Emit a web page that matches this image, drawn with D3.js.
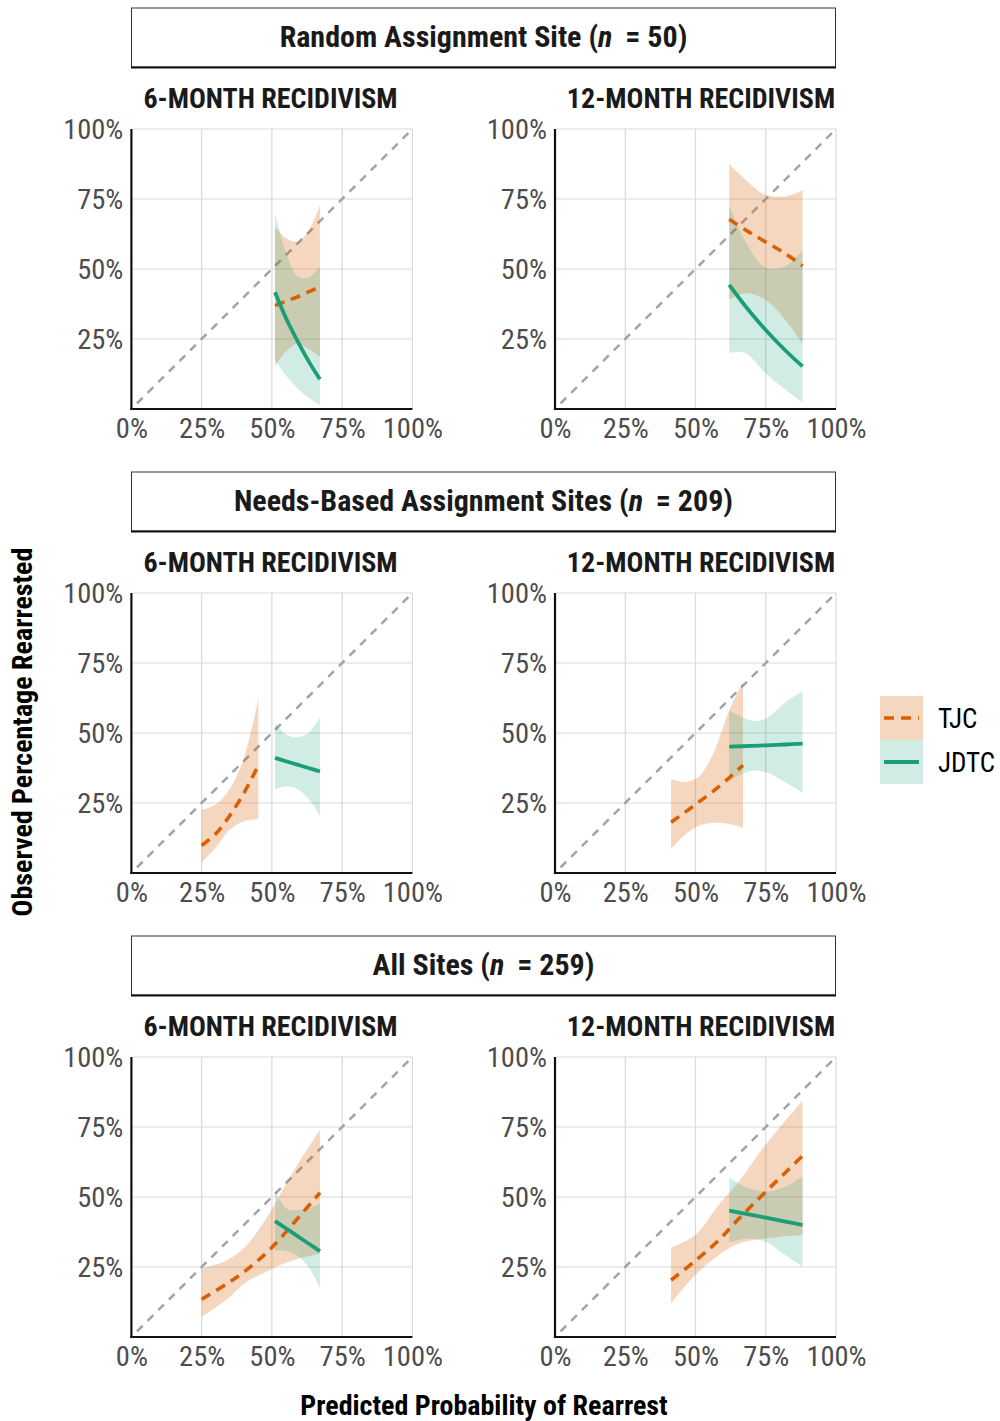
<!DOCTYPE html>
<html><head><meta charset="utf-8">
<script src="https://cdn.jsdelivr.net/npm/d3@7"></script>
<style>
body{margin:0;background:#fff;}
text{font-family:"Roboto Condensed","Liberation Sans Narrow","Roboto",sans-serif;}
</style></head>
<body><svg id="chart" width="1000" height="1421"></svg>
<script>
// ---- data ----
const groupTitles = ["Random Assignment Site", "Needs-Based Assignment Sites", "All Sites"];
const groupN = [50, 209, 259];
const outcomes = ["6-MONTH RECIDIVISM", "12-MONTH RECIDIVISM"];
const tickValues = [0, 0.25, 0.5, 0.75, 1];
const seriesNames = ["TJC", "JDTC"];
const xTitle = "Predicted Probability of Rearrest";
const yTitle = "Observed Percentage Rearrested";

// rows: [predicted, fit, lower, upper]
const tjcRandom6 = [[0.511,0.369,0.151,0.651],[0.55,0.385,0.205,0.61],[0.59,0.40,0.232,0.598],[0.63,0.418,0.215,0.635],[0.671,0.437,0.187,0.729]];
const jdtcRandom6 = [[0.511,0.417,0.175,0.699],[0.55,0.325,0.12,0.56],[0.59,0.245,0.075,0.475],[0.63,0.172,0.04,0.47],[0.671,0.106,0.014,0.508]];
const tjcRandom12 = [[0.62,0.678,0.39,0.876],[0.677,0.64,0.413,0.82],[0.749,0.597,0.39,0.765],[0.82,0.555,0.318,0.76],[0.881,0.511,0.233,0.781]];
const jdtcRandom12 = [[0.62,0.443,0.2,0.728],[0.677,0.368,0.2,0.6],[0.749,0.283,0.128,0.505],[0.82,0.209,0.07,0.51],[0.881,0.152,0.024,0.568]];
const tjcNeeds6 = [[0.25,0.098,0.038,0.226],[0.30,0.14,0.09,0.245],[0.35,0.205,0.155,0.30],[0.40,0.285,0.185,0.41],[0.452,0.385,0.193,0.624]];
const jdtcNeeds6 = [[0.511,0.411,0.298,0.536],[0.55,0.399,0.31,0.495],[0.59,0.387,0.30,0.485],[0.63,0.375,0.265,0.50],[0.671,0.363,0.205,0.556]];
const tjcNeeds12 = [[0.413,0.181,0.086,0.336],[0.46,0.215,0.135,0.325],[0.51,0.252,0.168,0.342],[0.56,0.29,0.179,0.42],[0.62,0.34,0.175,0.58],[0.669,0.385,0.161,0.683]];
const jdtcNeeds12 = [[0.62,0.451,0.33,0.58],[0.70,0.454,0.365,0.544],[0.75,0.456,0.36,0.552],[0.82,0.459,0.324,0.61],[0.881,0.462,0.288,0.648]];
const tjcAll6 = [[0.25,0.135,0.072,0.245],[0.34,0.19,0.135,0.274],[0.41,0.24,0.197,0.328],[0.48,0.30,0.233,0.424],[0.53,0.352,0.257,0.51],[0.58,0.41,0.275,0.597],[0.671,0.515,0.298,0.74]];
const jdtcAll6 = [[0.511,0.414,0.31,0.525],[0.55,0.388,0.307,0.46],[0.59,0.361,0.29,0.453],[0.63,0.334,0.25,0.46],[0.671,0.307,0.175,0.477]];
const tjcAll12 = [[0.413,0.203,0.119,0.319],[0.499,0.272,0.221,0.364],[0.582,0.345,0.292,0.471],[0.654,0.422,0.334,0.555],[0.749,0.518,0.352,0.686],[0.881,0.647,0.364,0.844]];
const jdtcAll12 = [[0.62,0.451,0.338,0.57],[0.689,0.438,0.352,0.531],[0.749,0.426,0.34,0.519],[0.82,0.412,0.292,0.537],[0.881,0.40,0.251,0.573]];

const panelData = [
  [[tjcRandom6, jdtcRandom6], [tjcRandom12, jdtcRandom12]],
  [[tjcNeeds6, jdtcNeeds6], [tjcNeeds12, jdtcNeeds12]],
  [[tjcAll6, jdtcAll6], [tjcAll12, jdtcAll12]]
];

// ---- layout ----
const lineColors = ["#D95F02", "#1B9E77"];
const fillOpacity = [0.25, 0.2];
const colLeft = [131.4, 555];
const panelW = 281, panelH = 280;
const rowBottom = [409, 873, 1337];
const FONT = '"Roboto Condensed","Liberation Sans Narrow","Roboto",sans-serif';
const svg = d3.select("#chart");

const fmt = d => Math.round(d * 100) + "%";
const curve = d3.curveCatmullRom.alpha(0.5);

rowBottom.forEach((bottom, r) => {
  const top = bottom - panelH;
  // header strip
  const hy = bottom - 401;
  svg.append("rect").attr("x", 131.5).attr("y", hy).attr("width", 704).attr("height", 59)
    .attr("fill", "#fff").attr("stroke", "#333").attr("stroke-width", 1);
  svg.append("line").attr("x1", 131).attr("x2", 836).attr("y1", hy + 59.5).attr("y2", hy + 59.5)
    .attr("stroke", "#111").attr("stroke-width", 2);
  const ht = svg.append("text").attr("x", 483.5).attr("y", hy + 39).attr("text-anchor", "middle")
    .attr("font-size", 30).attr("font-weight", 700).attr("fill", "#1a1a1a");
  ht.append("tspan").text(groupTitles[r] + " (");
  ht.append("tspan").attr("font-style", "italic").text("n");
  ht.append("tspan").attr("dx", 6).text(" = " + groupN[r] + ")");

  colLeft.forEach((left, c) => {
    const x = d3.scaleLinear().domain([0, 1]).range([left, left + panelW]);
    const y = d3.scaleLinear().domain([0, 1]).range([bottom, top]);
    const g = svg.append("g");

    // subtitle
    g.append("text").attr("x", c === 0 ? 270.5 : 701).attr("y", top - 21).attr("text-anchor", "middle")
      .attr("font-size", 28).attr("font-weight", 700).attr("fill", "#1a1a1a").text(outcomes[c]);

    // grid
    g.selectAll(".gx").data(tickValues.slice(1)).join("line")
      .attr("x1", d => x(d)).attr("x2", d => x(d)).attr("y1", top).attr("y2", bottom)
      .attr("stroke", "#dadada").attr("stroke-width", 1.2);
    g.selectAll(".gy").data(tickValues.slice(1)).join("line")
      .attr("y1", d => y(d)).attr("y2", d => y(d)).attr("x1", left).attr("x2", left + panelW)
      .attr("stroke", "#dadada").attr("stroke-width", 1.2);

    // diagonal
    g.append("line").attr("x1", x(0.02)).attr("y1", y(0.02)).attr("x2", x(1)).attr("y2", y(1))
      .attr("stroke", "#a3a3a3").attr("stroke-width", 2.5).attr("stroke-dasharray", "8,7");

    const series = panelData[r][c];
    // ribbons
    series.forEach((s, i) => {
      const area = d3.area().x(d => x(d[0])).y0(d => y(d[2])).y1(d => y(d[3])).curve(curve);
      g.append("path").attr("d", area(s)).attr("fill", lineColors[i]).attr("fill-opacity", fillOpacity[i]);
    });
    // lines
    series.forEach((s, i) => {
      const line = d3.line().x(d => x(d[0])).y(d => y(d[1])).curve(curve);
      g.append("path").attr("d", line(s)).attr("fill", "none").attr("stroke", lineColors[i])
        .attr("stroke-width", i === 0 ? 3.6 : 3.8)
        .attr("stroke-dasharray", i === 0 ? "10,7" : null);
    });

    // axes
    const xa = g.append("g").attr("transform", `translate(0,${bottom})`)
      .call(d3.axisBottom(x).tickValues(tickValues).tickFormat(fmt).tickSize(0).tickPadding(9));
    const ya = g.append("g").attr("transform", `translate(${left},0)`)
      .call(d3.axisLeft(y).tickValues(tickValues.slice(1)).tickFormat(fmt).tickSize(0).tickPadding(8));
    [xa, ya].forEach(a => {
      a.select(".domain").attr("stroke", "#111").attr("stroke-width", 2.2);
      a.selectAll("text").attr("font-size", 28.5).attr("fill", "#4d4d4d").style("font-family", FONT);
    });
    ya.select(".domain").attr("d", `M0,${bottom + 1}V${top}`);
    xa.select(".domain").attr("d", `M${left - 1},0H${left + panelW}`);
  });
});

// axis titles
svg.append("text").attr("x", 484).attr("y", 1415).attr("text-anchor", "middle")
  .attr("font-size", 28).attr("font-weight", 700).attr("fill", "#000").text(xTitle);
svg.append("text").attr("transform", "translate(32,732) rotate(-90)").attr("text-anchor", "middle")
  .attr("font-size", 28).attr("font-weight", 700).attr("fill", "#000").text(yTitle);

// legend
seriesNames.forEach((name, i) => {
  const ky = 696 + i * 44;
  svg.append("rect").attr("x", 880).attr("y", ky).attr("width", 43).attr("height", 44)
    .attr("fill", lineColors[i]).attr("fill-opacity", fillOpacity[i]);
  svg.append("line").attr("x1", 884).attr("x2", 919).attr("y1", ky + 22).attr("y2", ky + 22)
    .attr("stroke", lineColors[i]).attr("stroke-width", i === 0 ? 3.6 : 3.8)
    .attr("stroke-dasharray", i === 0 ? "10,7" : null);
  svg.append("text").attr("x", 938).attr("y", ky + 32).attr("font-size", 27).attr("fill", "#000").text(name);
});
</script></body></html>
